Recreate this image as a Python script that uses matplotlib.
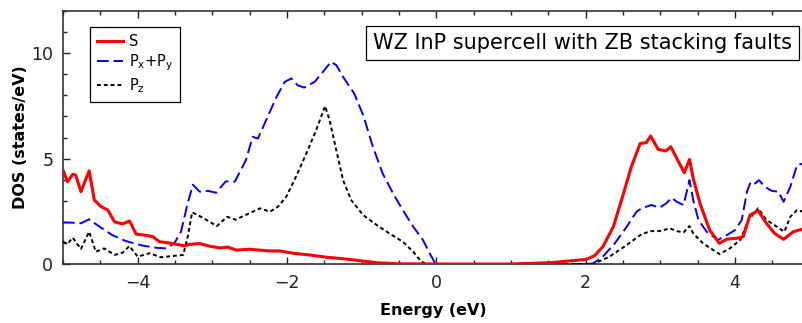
import matplotlib
matplotlib.use("Agg")
import matplotlib.pyplot as plt
from matplotlib.ticker import MultipleLocator

# S orbital
e_s = [-5.0, -4.94, -4.87, -4.83, -4.76, -4.65, -4.58, -4.49, -4.40, -4.31, -4.20, -4.11,
       -4.02, -3.89, -3.80, -3.71, -3.55, -3.37, -3.31, -3.17, -3.04, -2.90, -2.79, -2.68,
       -2.50, -2.37, -2.23, -2.10, -1.92, -1.70, -1.47, -1.25, -1.03, -0.80, -0.50, 0.0,
       1.0, 1.52, 1.83, 2.01, 2.12, 2.23, 2.37, 2.50, 2.61, 2.73, 2.81, 2.87, 2.97, 3.07,
       3.14, 3.22, 3.32, 3.39, 3.44, 3.53, 3.66, 3.79, 3.89, 4.02, 4.11, 4.20, 4.31, 4.42,
       4.53, 4.65, 4.78, 4.91]
dos_s = [4.45, 3.9, 4.25, 4.22, 3.43, 4.42, 3.03, 2.72, 2.56, 2.0, 1.90, 2.04,
         1.42, 1.36, 1.30, 1.06, 0.98, 0.86, 0.93, 0.97, 0.85, 0.76, 0.80, 0.66,
         0.70, 0.66, 0.62, 0.62, 0.51, 0.43, 0.32, 0.25, 0.16, 0.06, 0.01, 0.0,
         0.0, 0.06, 0.16, 0.22, 0.40, 0.82, 1.77, 3.27, 4.61, 5.72, 5.75, 6.07, 5.44, 5.36,
         5.56, 5.01, 4.33, 4.96, 4.06, 2.88, 1.61, 0.98, 1.18, 1.22, 1.30, 2.32, 2.53, 1.93,
         1.45, 1.17, 1.53, 1.66]

# Px+Py
e_pxy = [-5.0, -4.87, -4.76, -4.65, -4.51, -4.34, -4.16, -3.93, -3.75, -3.62, -3.51, -3.42,
         -3.33, -3.26, -3.17, -3.06, -2.95, -2.82, -2.70, -2.55, -2.46, -2.39, -2.28, -2.14,
         -2.03, -1.94, -1.86, -1.77, -1.63, -1.52, -1.41, -1.34, -1.25, -1.16, -1.10, -0.98,
         -0.85, -0.72, -0.58, -0.45, -0.31, -0.18, -0.09, -0.02, 0.0, 1.0, 2.0, 2.10,
         2.23, 2.39, 2.55, 2.68, 2.75, 2.88, 2.99, 3.08, 3.15, 3.22, 3.31, 3.39, 3.44, 3.51,
         3.62, 3.77, 3.89, 4.0, 4.09, 4.16, 4.21, 4.27, 4.32, 4.40, 4.49, 4.58, 4.65, 4.74,
         4.83, 4.91]
dos_pxy = [1.97, 1.96, 1.93, 2.12, 1.77, 1.37, 1.09, 0.87, 0.77, 0.74, 0.98, 1.53,
           2.88, 3.76, 3.43, 3.47, 3.38, 3.92, 3.90, 4.93, 6.03, 5.95, 6.82, 7.93,
           8.64, 8.80, 8.48, 8.37, 8.64, 9.11, 9.59, 9.43, 8.88, 8.40, 8.09, 7.06,
           5.56, 4.30, 3.35, 2.56, 1.77, 1.14, 0.51, 0.06, 0.0, 0.0, 0.0, 0.03,
           0.35, 0.98, 1.77, 2.48, 2.64, 2.80, 2.67, 2.88, 3.14, 2.95, 2.80, 3.98, 3.03, 2.09,
           1.53, 1.14, 1.37, 1.61, 2.09, 3.43, 3.90, 3.82, 3.98, 3.66, 3.47, 3.43, 2.95, 3.66,
           4.69, 4.77]

# Pz
e_pz = [-5.0, -4.94, -4.87, -4.76, -4.65, -4.56, -4.45, -4.31, -4.20, -4.11, -4.0, -3.84,
        -3.69, -3.53, -3.39, -3.33, -3.27, -3.13, -2.94, -2.80, -2.69, -2.52, -2.36, -2.23,
        -2.12, -2.01, -1.88, -1.74, -1.61, -1.49, -1.43, -1.34, -1.25, -1.14, -0.98, -0.80,
        -0.63, -0.45, -0.31, -0.20, -0.13, 0.0, 1.0, 2.10, 2.32, 2.55, 2.73, 2.86,
        2.99, 3.13, 3.22, 3.31, 3.39, 3.44, 3.57, 3.71, 3.79, 3.93, 4.07, 4.18, 4.31, 4.42,
        4.56, 4.66, 4.74, 4.83, 4.91]
dos_pz = [1.06, 0.95, 1.25, 0.71, 1.53, 0.58, 0.74, 0.43, 0.54, 0.85, 0.35, 0.51,
          0.32, 0.38, 0.43, 1.30, 2.45, 2.20, 1.80, 2.24, 2.10, 2.38, 2.64, 2.48,
          2.72, 3.19, 4.14, 5.25, 6.35, 7.49, 6.82, 5.40, 3.98, 3.03, 2.32, 1.85,
          1.45, 1.06, 0.58, 0.11, 0.0, 0.0, 0.0, 0.0, 0.35, 0.90, 1.37, 1.56,
          1.56, 1.69, 1.56, 1.50, 1.80, 1.45, 0.98, 0.66, 0.47, 0.74, 1.14, 2.09, 2.64, 2.09,
          1.77, 1.53, 2.24, 2.56, 2.48]

plt.rcParams['font.family'] = 'DejaVu Sans'

fig = plt.figure(figsize=(8.03, 3.23), dpi=100)
ax = fig.add_axes([63/803, 59/323, 1 - 63/803, 253/323])

ax.plot(e_s, dos_s, color="#ff0000", lw=2.2, label="S", zorder=4)
ax.plot(e_pxy, dos_pxy, color="#0000ff", lw=1.4, dashes=(6, 2.5),
        label=r"P$_\mathregular{x}$+P$_\mathregular{y}$", zorder=3)
ax.plot(e_pz, dos_pz, color="black", lw=1.4, dashes=(2, 1.5),
        label=r"P$_\mathregular{z}$", zorder=3)

ax.set_xlim(-5, 4.91)
ax.set_ylim(0, 12)
ax.xaxis.set_major_locator(MultipleLocator(2))
ax.xaxis.set_minor_locator(MultipleLocator(0.5))
ax.yaxis.set_major_locator(MultipleLocator(5))
ax.yaxis.set_minor_locator(MultipleLocator(1))
ax.tick_params(which="both", direction="in", top=True, right=False, labelsize=12.5, colors="#222222")
ax.tick_params(which="major", length=5, width=1, pad=7)
ax.tick_params(which="minor", length=3, width=1)
ax.spines["right"].set_visible(False)
for s in ["left", "top", "bottom"]:
    ax.spines[s].set_linewidth(1.2)
    ax.spines[s].set_color("#333333")

ax.set_xlabel("Energy (eV)", fontsize=11.5, fontweight="bold", labelpad=8)
ax.set_ylabel("DOS (states/eV)", fontsize=11.5, fontweight="bold", labelpad=2)

leg = ax.legend(loc="upper left", bbox_to_anchor=(0.027, 0.965), fontsize=10.5,
                fancybox=False, edgecolor="black", framealpha=1, handlelength=1.8,
                handletextpad=0.4, borderpad=0.45, labelspacing=0.25)
leg.get_frame().set_linewidth(0.9)

ax.text(0.985, 0.873, "WZ InP supercell with ZB stacking faults", transform=ax.transAxes,
        ha="right", va="center", fontsize=15,
        bbox=dict(boxstyle="square,pad=0.35", fc="white", ec="black", lw=0.9))

fig.savefig("out.png", dpi=100)
